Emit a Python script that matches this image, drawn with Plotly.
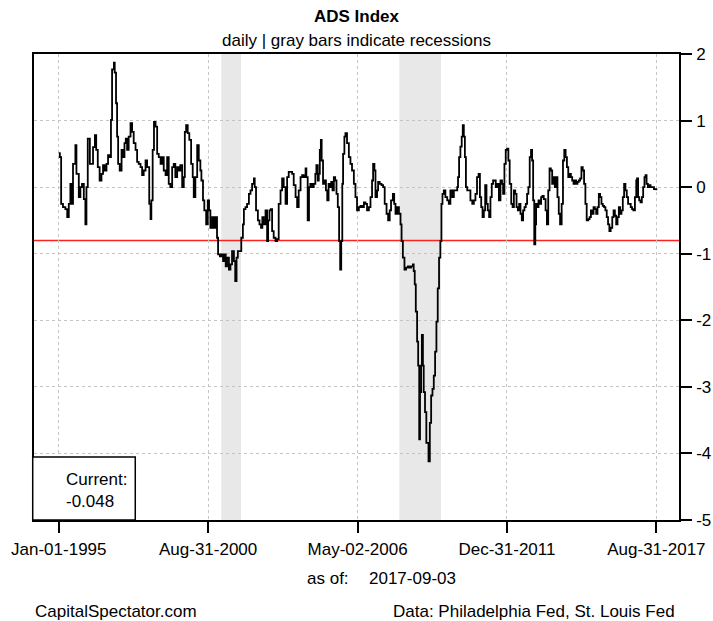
import pandas as pd
import plotly.graph_objects as go

# ADS index, decimal year -> value, split by period
yr_1995 = [1995.00, 1995.04, 1995.09, 1995.16, 1995.25, 1995.32, 1995.38, 1995.44, 1995.48, 1995.54,
           1995.59, 1995.63, 1995.67, 1995.76, 1995.82, 1995.88, 1995.95, 1996.01, 1996.05, 1996.10,
           1996.18, 1996.23, 1996.30, 1996.37, 1996.42, 1996.48, 1996.55, 1996.62, 1996.68, 1996.74,
           1996.81, 1996.87, 1996.93, 1996.98, 1997.02, 1997.09, 1997.12, 1997.17, 1997.21, 1997.25,
           1997.31, 1997.38, 1997.44, 1997.49, 1997.54, 1997.59, 1997.65, 1997.72, 1997.78, 1997.84,
           1997.91, 1997.97, 1998.03, 1998.10, 1998.16, 1998.22, 1998.29, 1998.35, 1998.43, 1998.48,
           1998.51, 1998.56, 1998.61, 1998.67, 1998.73, 1998.79, 1998.86, 1998.92, 1998.98, 1999.05,
           1999.11, 1999.17, 1999.23, 1999.30, 1999.36, 1999.42, 1999.49, 1999.55, 1999.61, 1999.68,
           1999.74, 1999.78, 1999.83, 1999.89, 1999.95, 2000.02, 2000.08, 2000.12, 2000.18, 2000.25,
           2000.31, 2000.37]
ads_1995 = [0.51, 0.45, -0.25, -0.30, -0.33, -0.45, -0.25, 0.05, -0.25, 0.35,
            0.35, 0.63, 0.20, -0.15, 0.00, 0.05, -0.18, -0.56, 0.00, 0.73,
            0.35, 0.35, 0.60, 0.78, 0.56, 0.30, 0.10, 0.20, 0.33, 0.25,
            0.35, 0.48, 0.45, 1.01, 1.77, 1.87, 1.72, 1.26, 0.76, 0.35,
            0.25, 0.56, 0.45, 0.66, 0.73, 0.56, 0.76, 0.96, 0.83, 0.66,
            0.56, 0.38, 0.35, 0.30, 0.18, 0.25, 0.40, 0.30, -0.25, -0.48,
            -0.20, 0.56, 0.98, 0.91, 0.50, 0.45, 0.35, 0.45, 0.25, 0.18,
            0.45, 0.05, 0.00, 0.30, 0.35, 0.15, 0.30, 0.25, 0.33, 0.00,
            0.15, 0.83, 0.93, 0.81, 0.71, 0.35, 0.15, -0.15, 0.15, 0.63,
            0.40, 0.25]

yr_2000 = [2000.41, 2000.47, 2000.52, 2000.59, 2000.65, 2000.70, 2000.75, 2000.82, 2000.88, 2000.94,
           2001.00, 2001.04, 2001.11, 2001.17, 2001.23, 2001.28, 2001.33, 2001.38, 2001.45, 2001.51,
           2001.57, 2001.64, 2001.69, 2001.74, 2001.79, 2001.85, 2001.92, 2001.98, 2002.02, 2002.08,
           2002.14, 2002.21, 2002.27, 2002.33, 2002.40, 2002.43, 2002.48, 2002.55, 2002.61, 2002.67,
           2002.72, 2002.77, 2002.84, 2002.90, 2002.94, 2002.99, 2003.04, 2003.09, 2003.15, 2003.22,
           2003.28, 2003.34, 2003.41, 2003.47, 2003.53, 2003.60, 2003.66, 2003.72, 2003.79, 2003.85,
           2003.91, 2003.98, 2004.04, 2004.10, 2004.17, 2004.23, 2004.29, 2004.36, 2004.39, 2004.44,
           2004.49, 2004.54, 2004.61, 2004.67, 2004.73, 2004.77, 2004.82, 2004.86, 2004.90, 2004.94,
           2004.97, 2005.02, 2005.08, 2005.13, 2005.18, 2005.23, 2005.28, 2005.33, 2005.38, 2005.43,
           2005.48, 2005.53, 2005.58, 2005.63, 2005.67, 2005.71, 2005.75, 2005.78, 2005.83, 2005.87,
           2005.93, 2006.00, 2006.06, 2006.12, 2006.19, 2006.25, 2006.31]
ads_2000 = [0.10, -0.20, -0.35, -0.56, -0.20, -0.35, -0.61, -0.45, -0.61, -0.45,
            -0.76, -1.01, -1.04, -1.01, -1.11, -1.01, -1.19, -1.06, -1.24, -1.16,
            -0.96, -1.11, -1.41, -1.06, -0.96, -0.96, -0.76, -0.56, -0.33, -0.30,
            -0.25, -0.10, -0.05, 0.05, 0.13, 0.00, -0.35, -0.50, -0.56, -0.61,
            -0.45, -0.56, -0.35, -0.81, -0.50, -0.35, -0.33, -0.66, -0.76, -0.81,
            -0.78, -0.25, -0.05, 0.13, 0.00, -0.25, 0.15, 0.23, 0.23, 0.20,
            0.03, -0.15, -0.30, -0.05, 0.15, 0.18, 0.15, 0.28, 0.15, -0.50,
            0.00, 0.05, 0.00, 0.05, 0.20, 0.33, 0.10, 0.20, 0.56, 0.71,
            0.40, 0.05, 0.10, -0.05, -0.20, 0.05, 0.00, 0.08, -0.05, 0.15,
            0.10, -0.10, -0.30, -0.81, -1.24, -0.81, 0.05, 0.50, 0.76, 0.81,
            0.66, 0.45, 0.35, 0.25, 0.05, -0.15, -0.35]

yr_2006 = [2006.38, 2006.44, 2006.50, 2006.57, 2006.63, 2006.69, 2006.76, 2006.82, 2006.88, 2006.92,
           2006.97, 2007.01, 2007.07, 2007.11, 2007.17, 2007.24, 2007.30, 2007.36, 2007.43, 2007.49,
           2007.55, 2007.60, 2007.67, 2007.72, 2007.77, 2007.83, 2007.90, 2007.96, 2008.00, 2008.05,
           2008.11, 2008.17, 2008.24, 2008.30, 2008.36, 2008.43, 2008.46, 2008.50, 2008.54, 2008.59,
           2008.63, 2008.67, 2008.70, 2008.74, 2008.77, 2008.81, 2008.84, 2008.89, 2008.94, 2008.98,
           2009.02, 2009.07, 2009.12, 2009.17, 2009.22, 2009.27, 2009.32, 2009.37, 2009.42, 2009.47,
           2009.51, 2009.55, 2009.60, 2009.66, 2009.73, 2009.79, 2009.85, 2009.92, 2009.98, 2010.04,
           2010.11, 2010.14, 2010.18, 2010.23, 2010.28, 2010.32, 2010.36, 2010.40, 2010.44, 2010.49,
           2010.55, 2010.61, 2010.68, 2010.74, 2010.80, 2010.86, 2010.92, 2010.97, 2011.02, 2011.07,
           2011.12, 2011.17, 2011.22, 2011.27, 2011.32, 2011.37, 2011.42, 2011.47, 2011.52, 2011.57,
           2011.62, 2011.69]
ads_2006 = [-0.30, -0.28, -0.30, -0.23, -0.25, -0.35, -0.30, -0.15, 0.10, 0.35,
            0.25, -0.15, -0.05, 0.08, 0.05, 0.03, 0.00, -0.25, -0.40, -0.50,
            -0.35, -0.20, -0.10, -0.25, -0.40, -0.30, -0.40, -0.56, -0.81, -1.06,
            -1.24, -1.21, -1.19, -1.21, -1.19, -1.16, -1.26, -1.46, -1.87, -2.32,
            -2.68, -3.79, -3.08, -2.68, -2.22, -2.68, -3.08, -3.38, -3.84, -3.84,
            -4.12, -3.54, -3.13, -3.03, -2.83, -2.47, -2.02, -1.52, -1.06, -0.81,
            -0.25, -0.10, -0.05, -0.15, -0.20, -0.25, -0.05, -0.15, -0.05, -0.05,
            0.00, 0.15, 0.45, 0.61, 0.76, 0.93, 0.76, 0.45, 0.00, -0.05,
            -0.05, -0.20, -0.25, -0.20, -0.10, 0.15, 0.20, -0.15, -0.30, -0.45,
            -0.35, 0.03, -0.25, -0.35, -0.45, -0.15, 0.05, 0.10, 0.10, 0.00,
            0.05, -0.20]

yr_2011 = [2011.75, 2011.81, 2011.85, 2011.90, 2011.95, 2012.00, 2012.05, 2012.10, 2012.16, 2012.21,
           2012.26, 2012.31, 2012.36, 2012.41, 2012.46, 2012.51, 2012.56, 2012.61, 2012.66, 2012.71,
           2012.76, 2012.81, 2012.86, 2012.91, 2012.95, 2012.99, 2013.03, 2013.07, 2013.10, 2013.14,
           2013.19, 2013.24, 2013.29, 2013.34, 2013.39, 2013.46, 2013.51, 2013.56, 2013.61, 2013.66,
           2013.71, 2013.76, 2013.81, 2013.86, 2013.91, 2013.96, 2014.01, 2014.07, 2014.12, 2014.17,
           2014.22, 2014.27, 2014.32, 2014.37, 2014.42, 2014.47, 2014.52, 2014.57, 2014.62, 2014.67,
           2014.72, 2014.77, 2014.82, 2014.87, 2014.92, 2014.97, 2015.02, 2015.08, 2015.13, 2015.18,
           2015.23, 2015.28, 2015.33, 2015.38, 2015.43, 2015.48, 2015.53, 2015.58, 2015.63, 2015.68,
           2015.73, 2015.78, 2015.83, 2015.88, 2015.93, 2015.99, 2016.04, 2016.09, 2016.14, 2016.19,
           2016.24, 2016.29, 2016.34, 2016.39, 2016.44, 2016.49, 2016.54, 2016.59, 2016.64, 2016.69,
           2016.74, 2016.79, 2016.85, 2016.90, 2016.93, 2016.97, 2017.01, 2017.06, 2017.11, 2017.16,
           2017.21, 2017.25, 2017.29, 2017.34, 2017.39, 2017.44, 2017.50, 2017.57, 2017.66]
ads_2011 = [0.10, 0.05, -0.10, 0.35, 0.56, 0.58, 0.40, 0.05, -0.25, -0.30,
            -0.05, -0.10, -0.30, -0.35, -0.25, -0.40, -0.50, -0.35, -0.30, -0.25,
            -0.10, 0.00, 0.45, 0.56, 0.40, -0.20, -0.86, -0.56, -0.25, -0.30,
            -0.20, -0.25, -0.15, -0.13, -0.18, -0.35, -0.56, -0.05, 0.28, 0.25,
            0.05, 0.15, 0.00, 0.15, -0.15, -0.40, -0.56, -0.25, 0.40, 0.56,
            0.45, 0.30, 0.15, 0.20, 0.15, 0.10, 0.05, 0.10, 0.05, 0.08,
            0.10, 0.13, 0.30, 0.25, 0.05, -0.25, -0.50, -0.48, -0.45, -0.35,
            -0.40, -0.30, -0.33, -0.40, -0.30, -0.10, -0.15, -0.25, -0.28, -0.30,
            -0.35, -0.45, -0.56, -0.66, -0.61, -0.45, -0.35, -0.43, -0.56, -0.45,
            -0.30, -0.40, -0.35, -0.15, 0.05, -0.05, -0.15, -0.25, -0.25, -0.30,
            -0.33, -0.35, -0.15, 0.10, 0.13, -0.15, -0.20, -0.23, -0.15, 0.00,
            0.15, 0.18, 0.05, 0.00, 0.03, 0.00, 0.00, -0.03, -0.048]

current = -0.048
as_of = "2017-09-03"
threshold = -0.8

recessions = [("2001-03-01", "2001-11-30"), ("2007-12-01", "2009-06-30")]

tick_dates = ["1995-01-01", "2000-08-31", "2006-05-02", "2011-12-31", "2017-08-31"]
tick_text = ["Jan-01-1995", "Aug-31-2000", "May-02-2006", "Dec-31-2011", "Aug-31-2017"]
y_ticks = [-5, -4, -3, -2, -1, 0, 1, 2]


def to_date(y):
    start = pd.Timestamp(int(y), 1, 1)
    return start + pd.Timedelta(days=(y - int(y)) * 365.25)


years = yr_1995 + yr_2000 + yr_2006 + yr_2011
ads = ads_1995 + ads_2000 + ads_2006 + ads_2011
dates = [to_date(y) for y in years]

FONT = "Liberation Sans, Arial, sans-serif"

fig = go.Figure()
fig.add_trace(go.Scatter(
    x=dates, y=ads, mode="lines", line_shape="hv",
    line=dict(color="black", width=1.8), showlegend=False, hoverinfo="skip"
))

shapes = []
for s, e in recessions:
    shapes.append(dict(type="rect", xref="x", yref="paper", x0=s, x1=e, y0=0, y1=1,
                       fillcolor="#e8e8e8", line=dict(width=0), layer="between"))
shapes.append(dict(type="line", xref="paper", yref="y", x0=0, x1=1, y0=threshold, y1=threshold,
                   line=dict(color="#ff2020", width=1.5), layer="between"))
# "Current" box in bottom left corner
shapes.append(dict(type="rect", xref="paper", yref="paper", x0=-0.002, x1=0.157, y0=0, y1=0.135,
                   fillcolor="white", line=dict(color="black", width=1.5), layer="above"))

annotations = [
    dict(text="<b>ADS Index</b>", x=0.5, y=1.0815, font=dict(size=17)),
    dict(text="daily | gray bars indicate recessions", x=0.5, y=1.028, font=dict(size=17)),
    dict(text="Current:<br>" + str(current), x=0.0465, y=0.063, xanchor="left", align="left",
         font=dict(size=17)),
    dict(text="as of:", x=0.42, y=-0.1245, xanchor="left", font=dict(size=17)),
    dict(text=as_of, x=0.516, y=-0.1245, xanchor="left", font=dict(size=17)),
    dict(text="CapitalSpectator.com", x=-0.002, y=-0.197, xanchor="left", font=dict(size=17)),
    dict(text="Data: Philadelphia Fed, St. Louis Fed", x=0.997, y=-0.197, xanchor="right",
         font=dict(size=17)),
]
for a in annotations:
    a.update(xref="paper", yref="paper", showarrow=False, yanchor="middle")
    a.setdefault("xanchor", "center")

fig.update_layout(
    width=713, height=621,
    margin=dict(l=34, r=34, t=54, b=101),
    plot_bgcolor="white", paper_bgcolor="white",
    font=dict(family=FONT, size=17, color="black"),
    shapes=shapes, annotations=annotations,
    showlegend=False,
)
fig.update_xaxes(
    type="date", range=[to_date(1994.06), to_date(2018.52)],
    tickvals=tick_dates, ticktext=tick_text,
    ticks="outside", ticklen=11, tickwidth=1.5, tickcolor="black",
    ticklabelstandoff=2, automargin=False,
    showline=True, linecolor="black", linewidth=1.5, mirror=True,
    showgrid=True, gridcolor="#c4c4c4", griddash="dot", gridwidth=1,
    zeroline=False,
)
# plain hyphen labels like the original (narrower than plotly's unicode minus)
fig.update_yaxes(
    range=[-5, 2], side="right", tickvals=y_ticks, ticktext=[str(v) for v in y_ticks],
    ticks="outside", ticklen=11, tickwidth=1.5, tickcolor="black",
    ticklabelstandoff=1, ticklabeloverflow="allow", automargin=False,
    showline=True, linecolor="black", linewidth=1.5, mirror=True,
    showgrid=True, gridcolor="#c4c4c4", griddash="dot", gridwidth=1,
    zeroline=False,
)

# drop the default page margin so the figure sits at the window corner
page_css = ("document.body.style.margin='0px';"
            "document.body.style.overflow='hidden';"
            "document.documentElement.style.overflow='hidden';")
fig.write_html("out.html", post_script=page_css, config={"displayModeBar": False})
